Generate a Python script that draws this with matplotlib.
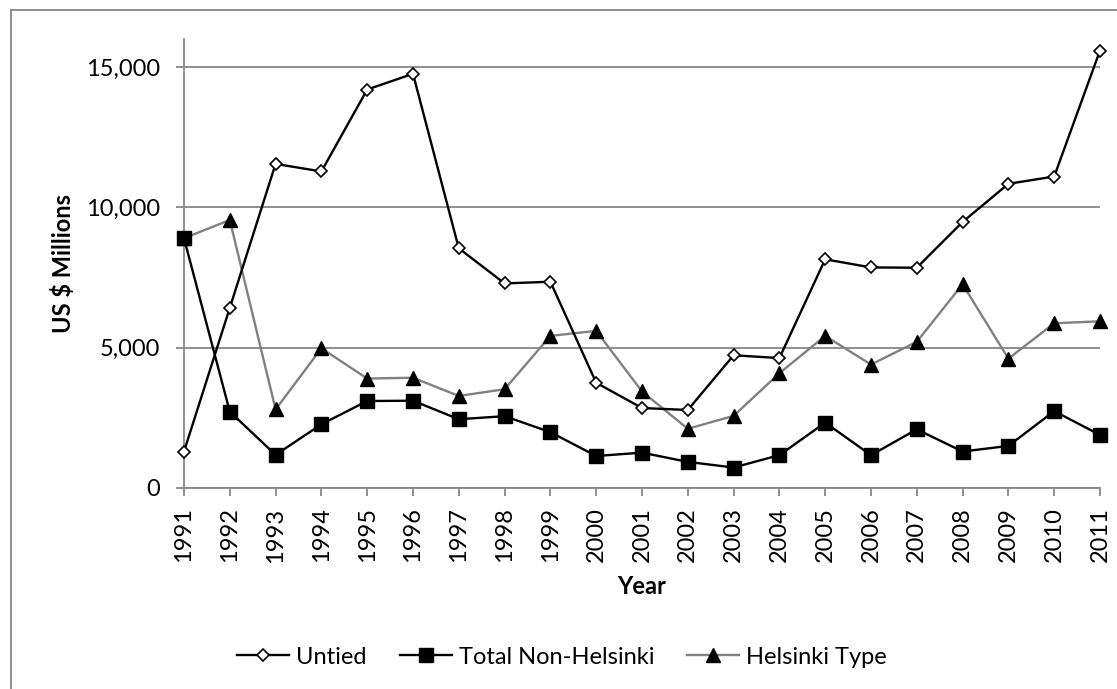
import matplotlib
matplotlib.use("Agg")
import matplotlib.pyplot as plt
from matplotlib.lines import Line2D

years = list(range(1991, 2012))
untied = [1300, 6420, 11550, 11280, 14200, 14760, 8540, 7290, 7350, 3750, 2850,
          2780, 4730, 4630, 8150, 7860, 7850, 9480, 10840, 11100, 15590]
non_helsinki = [8900, 2720, 1180, 2270, 3100, 3110, 2450, 2560, 1990, 1140, 1260,
                930, 730, 1170, 2330, 1170, 2090, 1300, 1500, 2740, 1890]
helsinki = [8900, 9550, 2800, 4980, 3900, 3930, 3280, 3520, 5420, 5600, 3440,
            2110, 2570, 4090, 5420, 4400, 5210, 7260, 4610, 5870, 5940]
yticks = [0, 5000, 10000, 15000]
ytick_labels = ["0", "5,000", "10,000", "15,000"]

FONT = "Lato"
FS = 17
GRID = "#878787"
LW = 1.7

fig = plt.figure(figsize=(11.17, 6.89), dpi=100)
ax = fig.add_axes([184/1117, 1 - 488/689, (1100-184)/1117, (488-39)/689])

ax.plot(years, helsinki, color="#808080", lw=LW, marker="^", ms=10.5,
        mfc="black", mec="black", clip_on=False, zorder=3, label="Helsinki Type")
ax.plot(years, non_helsinki, color="black", lw=LW, marker="s", ms=9.5,
        mfc="black", mec="black", clip_on=False, zorder=4, label="Total Non-Helsinki")
ax.plot(years, untied, color="black", lw=LW, marker="D", ms=6.2,
        mfc="white", mec="black", mew=1.2, clip_on=False, zorder=5, label="Untied")

ax.set_xlim(1991, 2011)
ax.set_ylim(0, 16000)
ax.set_yticks(yticks)
ax.set_yticklabels(ytick_labels, fontfamily=FONT, fontsize=FS)
ax.set_xticks(years)
ax.set_xticklabels([str(y) for y in years], rotation=90, fontfamily=FONT, fontsize=FS)

ax.yaxis.grid(True, color=GRID, lw=1.3)
ax.set_axisbelow(True)
for s in ["top", "right"]:
    ax.spines[s].set_visible(False)
for s in ["left", "bottom"]:
    ax.spines[s].set_color(GRID)
    ax.spines[s].set_linewidth(1.3)
ax.tick_params(axis="both", colors=GRID, labelcolor="black", length=6, width=1.3)
ax.tick_params(axis="y", pad=11)
ax.tick_params(axis="x", pad=8)

ax.set_ylabel("US $ Millions", fontfamily=FONT, fontsize=FS, fontweight="bold", labelpad=8)
ax.set_xlabel("Year", fontfamily=FONT, fontsize=FS, fontweight="bold", labelpad=9)

handles = [
    Line2D([], [], color="black", lw=LW, marker="D", ms=6.2, mfc="white", mec="black", mew=1.2),
    Line2D([], [], color="black", lw=LW, marker="s", ms=9.5, mfc="black", mec="black"),
    Line2D([], [], color="#808080", lw=LW, marker="^", ms=10.5, mfc="black", mec="black"),
]
labels = ["Untied", "Total Non-Helsinki", "Helsinki Type"]
fig.legend(handles, labels, loc="center", bbox_to_anchor=(562/1117, 1 - 657/689),
           ncol=3, frameon=False, prop={"family": FONT, "size": FS},
           handlelength=2.2, handletextpad=0.3, columnspacing=1.4)

# outer chart border (left and top visible)
fig.add_artist(Line2D([11/1117, 11/1117], [0, 1 - 10/689], transform=fig.transFigure,
                      color=GRID, lw=1.3))
fig.add_artist(Line2D([11/1117, 1], [1 - 10/689, 1 - 10/689], transform=fig.transFigure,
                      color=GRID, lw=1.3))

fig.savefig("out.png", dpi=100)
